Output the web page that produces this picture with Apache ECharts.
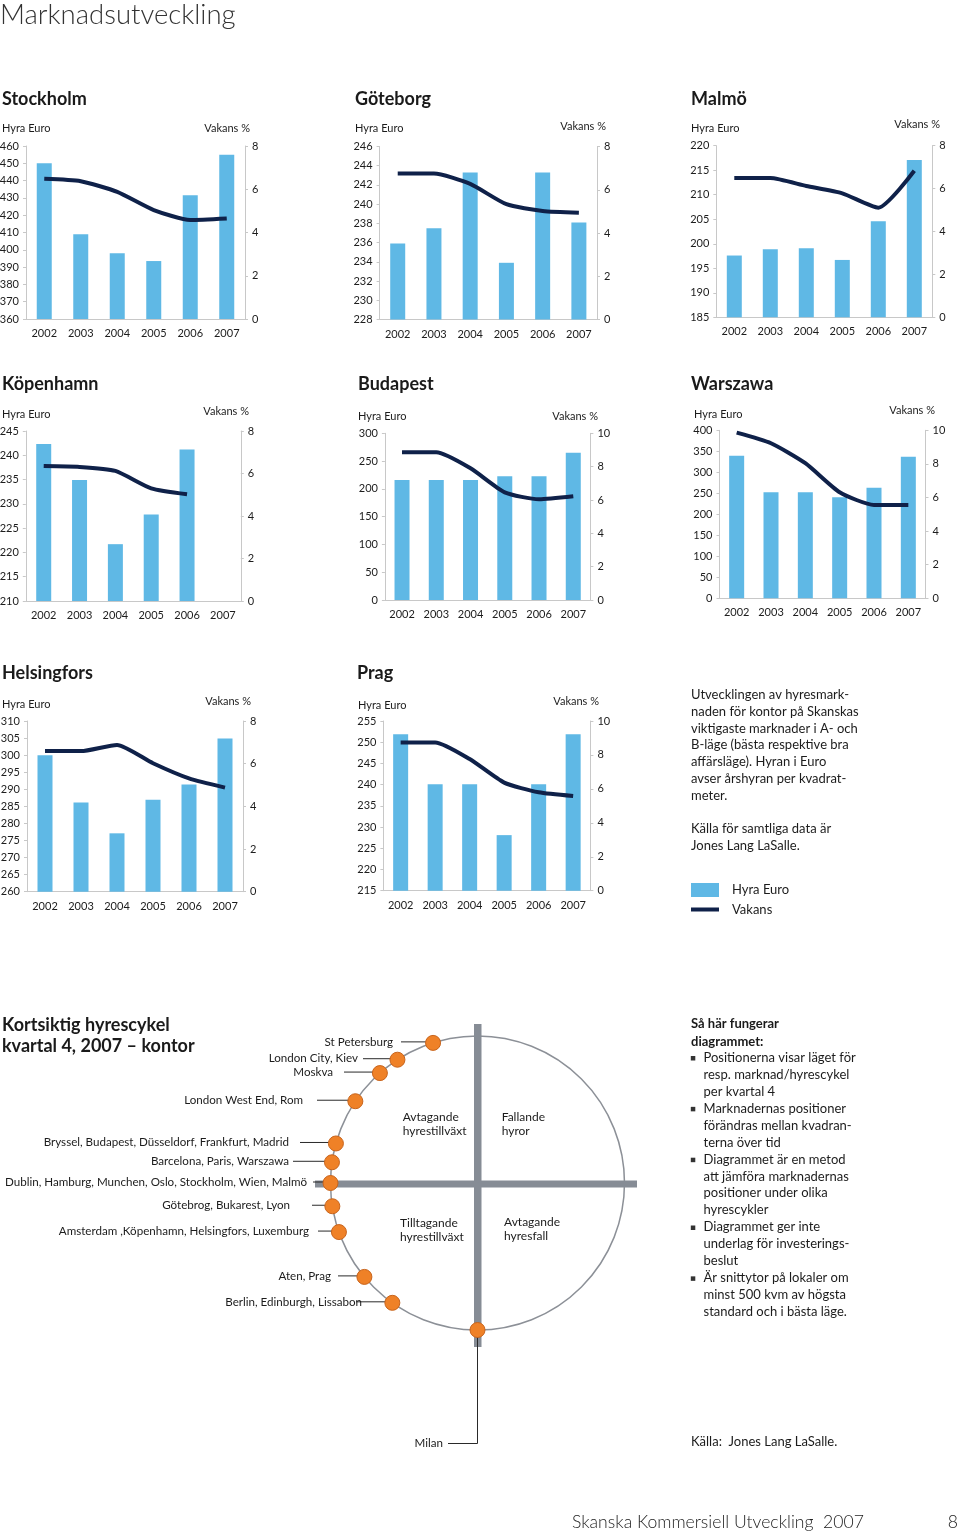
<!DOCTYPE html>
<html>
<head>
<meta charset="utf-8">
<script src="https://cdn.jsdelivr.net/npm/echarts@6/dist/echarts.min.js"></script>
<style>
html,body{margin:0;padding:0;background:#ffffff;}
#chart{width:960px;height:1534px;}
</style>
</head>
<body>
<div id="chart"></div>
<script>
// ---------- DATA ----------
const years = ['2002', '2003', '2004', '2005', '2006', '2007'];

const stockholmHyra = [450, 409, 398, 393.5, 431.5, 455];
const stockholmVakans = [6.48, 6.37, 5.88, 5.04, 4.58, 4.65];
const goteborgHyra = [235.9, 237.5, 243.3, 233.9, 243.3, 238.1];
const goteborgVakans = [6.75, 6.75, 6.27, 5.33, 5.02, 4.94];
const malmoHyra = [197.6, 198.9, 199.1, 196.7, 204.6, 217.1];
const malmoVakans = [6.49, 6.49, 6.12, 5.78, 5.11, 6.83];
const kopenhamnHyra = [242.3, 234.9, 221.7, 227.8, 241.2, null];
const kopenhamnVakans = [6.35, 6.31, 6.12, 5.30, 5.02, null];
const budapestHyra = [216, 216, 216, 222.6, 222.6, 265.2];
const budapestVakans = [8.86, 8.86, 7.9, 6.46, 6.04, 6.22];
const warszawaHyra = [339.7, 252.4, 252.4, 240.5, 263.5, 337.3];
const warszawaVakans = [9.86, 9.23, 8.04, 6.31, 5.56, 5.56];
const helsingforsHyra = [300, 286.1, 277.1, 286.9, 291.4, 304.9];
const helsingforsVakans = [6.59, 6.59, 6.88, 6.02, 5.31, 4.88];
const pragHyra = [251.9, 240.1, 240.1, 228.1, 240.1, 251.9];
const pragVakans = [8.74, 8.74, 7.76, 6.37, 5.80, 5.58];

// tick labels: [min, max, interval]
const stockholmHyraTicks = [360, 460, 10];
const goteborgHyraTicks = [228, 246, 2];
const malmoHyraTicks = [185, 220, 5];
const kopenhamnHyraTicks = [210, 245, 5];
const budapestHyraTicks = [0, 300, 50];
const warszawaHyraTicks = [0, 400, 50];
const helsingforsHyraTicks = [260, 310, 5];
const pragHyraTicks = [215, 255, 5];
const vakansTicks8 = [0, 8, 2];
const vakansTicks10 = [0, 10, 2];

// short-term rent cycle: market groups and their position on the cycle (degrees, counter-clockwise from 3 o'clock)
const cycleMarkets = [
  'St Petersburg',
  'London City, Kiev',
  'Moskva',
  'London West End, Rom',
  'Bryssel, Budapest, Düsseldorf, Frankfurt, Madrid',
  'Barcelona, Paris, Warszawa',
  'Dublin, Hamburg, Munchen, Oslo, Stockholm, Wien, Malmö',
  'Götebrog, Bukarest, Lyon',
  'Amsterdam ,Köpenhamn, Helsingfors, Luxemburg',
  'Aten, Prag',
  'Berlin, Edinburgh, Lissabon',
  'Milan'
];
const cycleAngles = [107.6, 123, 131.6, 146.2, 164.4, 171.9, 180, 189.1, 199.5, 219.7, 234.6, 270];

// ---------- LAYOUT / STYLE ----------
const BAR = '#5fb8e5';
const LINE = '#0f2149';
const AXIS = '#c8c8c8';
const TXT = '#1c1c1c';
const FONT = 'Lato, "Open Sans", sans-serif';

const panels = [
  {name: 'Stockholm', hyra: stockholmHyra, vakans: stockholmVakans, ht: stockholmHyraTicks, vt: vakansTicks8,
   grid: [26, 146, 219, 173], title: [2, 99], hyraLbl: [2, 128], vakLbl: [250, 128]},
  {name: 'Göteborg', hyra: goteborgHyra, vakans: goteborgVakans, ht: goteborgHyraTicks, vt: vakansTicks8,
   grid: [379.6, 146.5, 217.4, 173], title: [355, 99], hyraLbl: [355, 128], vakLbl: [606, 126.5]},
  {name: 'Malmö', hyra: malmoHyra, vakans: malmoVakans, ht: malmoHyraTicks, vt: vakansTicks8,
   grid: [716.3, 145.7, 216, 171.6], title: [691, 99], hyraLbl: [691, 128], vakLbl: [940, 124.5]},
  {name: 'Köpenhamn', hyra: kopenhamnHyra, vakans: kopenhamnVakans, ht: kopenhamnHyraTicks, vt: vakansTicks8,
   grid: [25.8, 431, 215, 170], title: [2, 384], hyraLbl: [2, 414], vakLbl: [249, 411.5]},
  {name: 'Budapest', hyra: budapestHyra, vakans: budapestVakans, ht: budapestHyraTicks, vt: vakansTicks10,
   grid: [384.9, 433.3, 205.5, 166.7], title: [358, 384], hyraLbl: [358, 416.5], vakLbl: [598, 416.5]},
  {name: 'Warszawa', hyra: warszawaHyra, vakans: warszawaVakans, ht: warszawaHyraTicks, vt: vakansTicks10,
   grid: [719.5, 430.3, 206, 168], title: [691, 384], hyraLbl: [694, 414], vakLbl: [935, 410.5]},
  {name: 'Helsingfors', hyra: helsingforsHyra, vakans: helsingforsVakans, ht: helsingforsHyraTicks, vt: vakansTicks8,
   grid: [27, 721, 216, 170.7], title: [2, 673], hyraLbl: [2, 704], vakLbl: [251, 701]},
  {name: 'Prag', hyra: pragHyra, vakans: pragVakans, ht: pragHyraTicks, vt: vakansTicks10,
   grid: [383.4, 721, 207, 169.7], title: [357, 673], hyraLbl: [358, 705], vakLbl: [599, 701.5]}
];

// label anchor layout for the cycle diagram (text right edge, leader line start)
const cycleLabelLayout = [
  [393, 401], [358, 363], [333, 344], [303, 317], [289, 300], [289, 293],
  [307, 313], [290, 312], [309, 318], [331, 338], [362, 356], [443, 448]
];

const chart = echarts.init(document.getElementById('chart'), null, {renderer: 'canvas'});

const grids = [], xAxes = [], yAxes = [], series = [];
panels.forEach((p, i) => {
  grids.push({left: p.grid[0], top: p.grid[1], width: p.grid[2], height: p.grid[3],
              containLabel: false, outerBoundsMode: 'none'});
  xAxes.push({
    type: 'category', gridIndex: i, data: years, boundaryGap: true,
    axisLine: {show: true, onZero: false, lineStyle: {color: AXIS, width: 1}},
    axisTick: {show: false},
    axisLabel: {color: TXT, fontSize: 11, fontFamily: FONT, margin: 9, interval: 0},
    splitLine: {show: false}
  });
  yAxes.push({
    type: 'value', gridIndex: i, position: 'left',
    min: p.ht[0], max: p.ht[1], interval: p.ht[2],
    axisLine: {show: true, lineStyle: {color: AXIS, width: 1}},
    axisTick: {show: true, length: 3, lineStyle: {color: AXIS}},
    axisLabel: {color: TXT, fontSize: 11, fontFamily: FONT, margin: 7, showMinLabel: true, showMaxLabel: true},
    splitLine: {show: false}
  });
  yAxes.push({
    type: 'value', gridIndex: i, position: 'right',
    min: p.vt[0], max: p.vt[1], interval: p.vt[2],
    axisLine: {show: true, lineStyle: {color: AXIS, width: 1}},
    axisTick: {show: true, length: 3, lineStyle: {color: AXIS}},
    axisLabel: {color: TXT, fontSize: 11, fontFamily: FONT, margin: 7, showMinLabel: true, showMaxLabel: true},
    splitLine: {show: false}
  });
  series.push({
    type: 'bar', name: 'Hyra Euro', xAxisIndex: i, yAxisIndex: 2 * i,
    data: p.hyra, barWidth: 15, clip: true, itemStyle: {color: BAR}, z: 2
  });
  series.push({
    type: 'line', name: 'Vakans', xAxisIndex: i, yAxisIndex: 2 * i + 1,
    data: p.vakans, symbol: 'none', smooth: 0.2, connectNulls: false,
    lineStyle: {color: LINE, width: 4}, itemStyle: {color: LINE}, z: 3
  });
});

const cycleSeriesIndex = series.length;
series.push({
  type: 'scatter', name: 'Marknader', coordinateSystem: 'polar', polarIndex: 0,
  data: cycleAngles.map(a => [1, a]),
  symbolSize: 15,
  itemStyle: {color: '#ef8127', borderColor: '#c8641c', borderWidth: 1, opacity: 1},
  z: 10, silent: true
});

const option = {
  animation: false,
  backgroundColor: '#ffffff',
  textStyle: {fontFamily: FONT},
  grid: grids,
  xAxis: xAxes,
  yAxis: yAxes,
  polar: {center: [477.5, 1183], radius: 147},
  angleAxis: {
    type: 'value', min: 0, max: 360, startAngle: 0, clockwise: false,
    axisLine: {show: true, lineStyle: {color: '#8c9097', width: 1.5}},
    axisTick: {show: false}, axisLabel: {show: false},
    splitLine: {show: false}, splitArea: {show: false}, z: 0
  },
  radiusAxis: {
    type: 'value', min: 0, max: 1,
    axisLine: {show: false}, axisTick: {show: false}, axisLabel: {show: false},
    splitLine: {show: false}, splitArea: {show: false}
  },
  legend: {
    show: true, orient: 'vertical', left: 691, top: 883, padding: 0,
    itemWidth: 28, itemHeight: 14, itemGap: 6, selectedMode: false, symbolKeepAspect: true,
    textStyle: {color: TXT, fontSize: 13, fontFamily: FONT, padding: [0, 0, 0, 8]},
    data: [
      {name: 'Hyra Euro', icon: 'rect', itemStyle: {color: BAR}},
      {name: 'Vakans', icon: 'path://M0,0 L28,0 L28,4 L0,4 Z', itemStyle: {color: LINE, borderWidth: 0}}
    ]
  },
  series: series
};

chart.setOption(option);

// ---------- TEXT & DECORATION ----------
function txt(x, y, text, o) {
  o = o || {};
  return {
    type: 'text', x: x, y: y, z: 20, silent: true,
    style: {
      text: text, fill: o.fill || TXT,
      fontSize: o.size || 12, fontFamily: FONT, fontWeight: o.weight || 'normal',
      align: o.align || 'left', verticalAlign: o.va || 'middle',
      lineHeight: o.lh || undefined
    }
  };
}

const g = [];
g.push(txt(0, 15, 'Marknadsutveckling', {size: 27.5, weight: 300, fill: '#333333'}));

panels.forEach(p => {
  g.push(txt(p.title[0], p.title[1], p.name, {size: 18, weight: 'bold', fill: '#1a1a1a'}));
  g.push(txt(p.hyraLbl[0], p.hyraLbl[1], 'Hyra Euro', {size: 11}));
  g.push(txt(p.vakLbl[0], p.vakLbl[1], 'Vakans %', {size: 11, align: 'right'}));
});

g.push(txt(691, 686.6,
  'Utvecklingen av hyresmark-\nnaden för kontor på Skanskas\nviktigaste marknader i A- och\nB-läge (bästa respektive bra\naffärsläge). Hyran i Euro\navser årshyran per kvadrat-\nmeter.\n\nKälla för samtliga data är\nJones Lang LaSalle.',
  {size: 13, va: 'top', lh: 16.75}));

// cycle title
g.push(txt(2, 1014.5, 'Kortsiktig hyrescykel\nkvartal 4, 2007 – kontor', {size: 18, weight: 'bold', va: 'top', lh: 21, fill: '#1a1a1a'}));

// cross bars
g.push({type: 'rect', z: 5, silent: true, shape: {x: 474, y: 1024, width: 7.5, height: 323}, style: {fill: '#868c95'}});
g.push({type: 'rect', z: 5, silent: true, shape: {x: 315, y: 1180.5, width: 322, height: 7}, style: {fill: '#868c95'}});

// quadrant labels
g.push(txt(402.7, 1110, 'Avtagande\nhyrestillväxt', {size: 12, va: 'top', lh: 14.4}));
g.push(txt(501.7, 1110, 'Fallande\nhyror', {size: 12, va: 'top', lh: 14.4}));
g.push(txt(400, 1215.5, 'Tilltagande\nhyrestillväxt', {size: 12, va: 'top', lh: 14.4}));
g.push(txt(504, 1215, 'Avtagande\nhyresfall', {size: 12, va: 'top', lh: 14.4}));

// market labels with leader lines to the dots
cycleMarkets.forEach((m, i) => {
  const pt = chart.convertToPixel({seriesIndex: cycleSeriesIndex}, [1, cycleAngles[i]]);
  const lay = cycleLabelLayout[i];
  if (m === 'Milan') {
    const ly = 1443.5;
    g.push(txt(lay[0], ly, m, {size: 11.6, align: 'right'}));
    g.push({type: 'polyline', z: 6, silent: true,
      shape: {points: [[lay[1], ly], [pt[0], ly], [pt[0], pt[1] + 7]]},
      style: {stroke: '#2a2a2a', lineWidth: 1, fill: null}});
  } else {
    g.push(txt(lay[0], pt[1] - 1, m, {size: 11.6, align: 'right'}));
    g.push({type: 'line', z: 6, silent: true,
      shape: {x1: lay[1], y1: pt[1] - 1, x2: pt[0] - 6, y2: pt[1] - 1},
      style: {stroke: '#2a2a2a', lineWidth: 1}});
  }
});

// how the diagram works
g.push(txt(691, 1015, 'Så här fungerar\ndiagrammet:', {size: 13, weight: 'bold', va: 'top', lh: 17.7, fill: '#1a1a1a'}));
const bulletLines = [
  'Positionerna visar läget för', 'resp. marknad/hyrescykel', 'per kvartal 4',
  'Marknadernas positioner', 'förändras mellan kvadran-', 'terna över tid',
  'Diagrammet är en metod', 'att jämföra marknadernas', 'positioner under olika', 'hyrescykler',
  'Diagrammet ger inte', 'underlag för investerings-', 'beslut',
  'Är snittytor på lokaler om', 'minst 500 kvm av högsta', 'standard och i bästa läge.'
];
const bulletStarts = [0, 3, 6, 10, 13];
const LH = 16.95, firstY = 1057.7;
g.push(txt(703.5, firstY - LH / 2, bulletLines.join('\n'), {size: 13, va: 'top', lh: LH}));
bulletStarts.forEach(k => {
  g.push({type: 'rect', z: 20, silent: true,
    shape: {x: 690.8, y: firstY + k * LH - 1.7, width: 4.5, height: 4.5}, style: {fill: '#333333'}});
});
g.push(txt(691, 1441.7, 'Källa:  Jones Lang LaSalle.', {size: 13}));

// footer
g.push(txt(572, 1522, 'Skanska Kommersiell Utveckling  2007', {size: 17.6, weight: 300, fill: '#222222'}));
g.push(txt(958, 1522, '8', {size: 17.6, weight: 300, fill: '#222222', align: 'right'}));

chart.setOption({graphic: {elements: g}});
</script>
</body>
</html>
